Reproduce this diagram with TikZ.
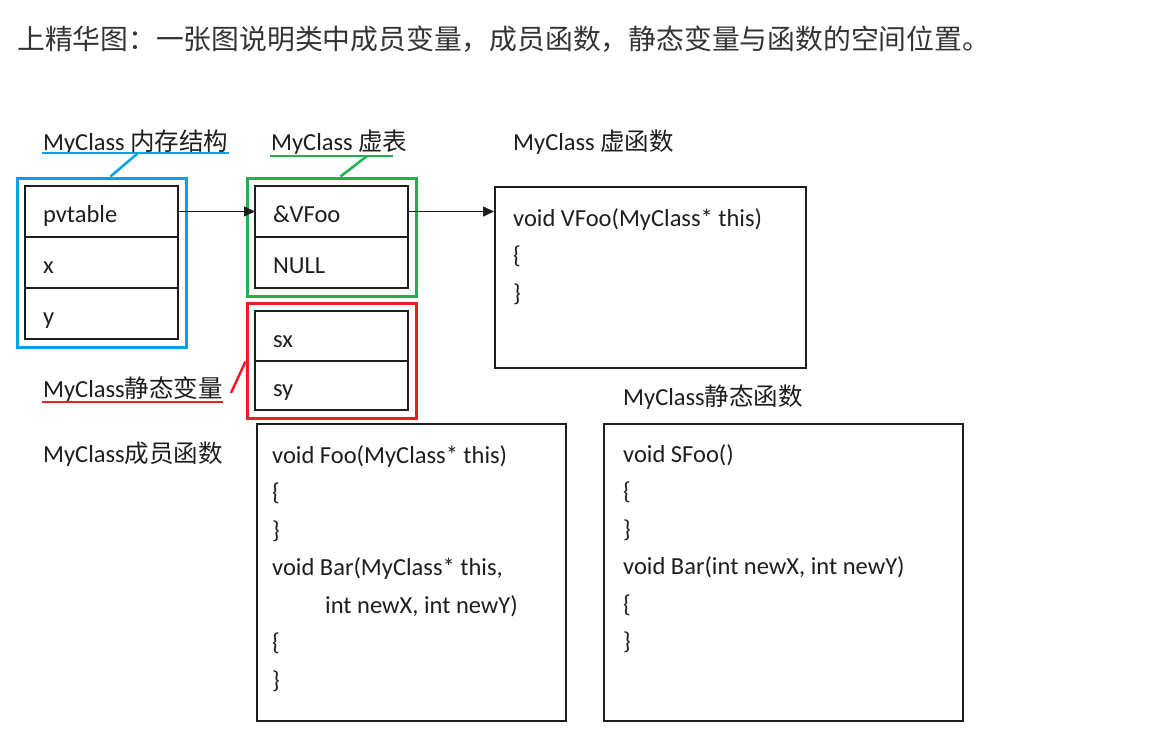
\documentclass[tikz,border=0pt]{standalone}
\usepackage{fontspec}
\setmainfont{Carlito}
\newfontfamily\cjk{Noto Sans CJK SC}
\usepackage{tikz}
\usetikzlibrary{arrows.meta,positioning,fit}

\definecolor{memblue}{HTML}{00A2E8}
\definecolor{vtgreen}{HTML}{22B14C}
\definecolor{stred}{HTML}{ED1C24}
\definecolor{ink}{HTML}{1E1E1E}
\definecolor{titlegray}{HTML}{333333}

\begin{document}
\begin{tikzpicture}[x=1pt,y=-1pt,
		cell/.style={draw=ink,line width=1.6pt,rectangle,outer sep=0pt,
			inner xsep=18pt,inner ysep=0pt,text width=117pt,align=left,
			minimum height=51pt,text height=24pt,text depth=2pt,
			font=\fontsize{24.5}{30}\selectfont,text=ink},
		groupbox/.style={draw=#1,line width=3pt,inner sep=8pt},
		codebox/.style={draw=ink,line width=1.6pt,rectangle,inner sep=0pt,anchor=north west},
		% base of a multi-line node is its last line
		code/.style={anchor=base west,inner sep=0pt,align=left,
			font=\fontsize{24.5}{37.5}\selectfont,text=ink},
		lbl/.style={anchor=base west,inner sep=0pt,font=\fontsize{24.5}{30}\selectfont,text=ink},
		lead/.style={draw=#1,line width=2.5pt},
		ptr/.style={draw=ink,line width=1.5pt,-{Triangle[length=11pt,width=10pt]}}]
		\useasboundingbox (0,0) rectangle (1163,755);
		
		% title line
		\node[anchor=base west,inner sep=0pt,text=titlegray,
		font=\cjk\fontsize{27.8}{34}\selectfont] (title) at (17,49)
		{上精华图：一张图说明类中成员变量，成员函数，静态变量与函数的空间位置。};
		
		% object layout
		\node[cell,anchor=north west] (pv) at (25,186) {pvtable};
		\node[cell,below=0pt of pv] (mx) {x};
		\node[cell,below=0pt of mx] (my) {y};
		\node[groupbox=memblue,fit=(pv)(my)] (memframe) {};
		
		% virtual table
		\node[cell,anchor=north west] (vf) at (255,186) {\&VFoo};
		\node[cell,below=0pt of vf] (vnull) {NULL};
		\node[groupbox=vtgreen,fit=(vf)(vnull)] (vtframe) {};
		
		% static data
		\node[cell,anchor=north west,minimum height=50pt] (sx) at (255,311) {sx};
		\node[cell,below=0pt of sx,minimum height=49pt] (sy) {sy};
		\node[groupbox=stred,fit=(sx)(sy)] (stframe) {};
		
		% function bodies
		\node[codebox,minimum width=311pt,minimum height=181pt] (vfn) at (494,186) {};
		\node[codebox,minimum width=309pt,minimum height=297pt] (mfn) at (256,423) {};
		\node[codebox,minimum width=359pt,minimum height=297pt] (sfn) at (603,423) {};
		\node[code] (vfntxt) at ([shift={(19pt,-115pt)}]vfn.north west)
		{void VFoo(MyClass* this)\\\{\\\}};
		\node[code] (mfntxt) at ([shift={(16pt,-265pt)}]mfn.north west)
		{void Foo(MyClass* this)\\\{\\\}\\void Bar(MyClass* this,\\\hspace*{53pt}int newX, int newY)\\\{\\\}};
		\node[code] (sfntxt) at ([shift={(20pt,-226.5pt)}]sfn.north west)
		{void SFoo()\\\{\\\}\\void Bar(int newX, int newY)\\\{\\\}};
		
		% labels
		\node[lbl] (memlbl) at (43,150) {MyClass {\cjk 内存结构}};
		\node[lbl] (vtlbl) at (271,150) {MyClass {\cjk 虚表}};
		\node[lbl] (vfnlbl) at (513,150) {MyClass {\cjk 虚函数}};
		\node[lbl] (stlbl) at (43,397) {MyClass{\cjk 静态变量}};
		\node[lbl] (mfnlbl) at (43,462) {MyClass{\cjk 成员函数}};
		\node[lbl] (sfnlbl) at (623,405) {MyClass{\cjk 静态函数}};
		
		% underlines and leaders
		\draw[lead=memblue] ([shift={(-1pt,-3pt)}]memlbl.base west) -- ([yshift=-3pt]memlbl.base east);
		\coordinate (memul) at ([shift={(95pt,-3pt)}]memlbl.base west);
		\draw[lead=memblue] (memul) -- ([xshift=95pt]memframe.north west);
		
		\draw[lead=vtgreen] ([shift={(-1pt,-6pt)}]vtlbl.base west) -- ([shift={(-15pt,-6pt)}]vtlbl.base east);
		\coordinate (vtul) at ([shift={(96pt,-6pt)}]vtlbl.base west);
		\draw[lead=vtgreen] (vtul) -- ([xshift=95pt]vtframe.north west);
		
		\draw[lead=stred] ([shift={(-1pt,-5pt)}]stlbl.base west) -- ([yshift=-5pt]stlbl.base east);
		\coordinate (stul) at ([shift={(188pt,4pt)}]stlbl.base west);
		\draw[lead=stred] (stul) -- ([yshift=-60pt]stframe.north west);
		
		% pointers
		\draw[ptr] (pv.east) -- (vf.west);
		\draw[ptr] (vf.east) -- (vf.east -| vfn.west);
	\end{tikzpicture}
\end{document}
